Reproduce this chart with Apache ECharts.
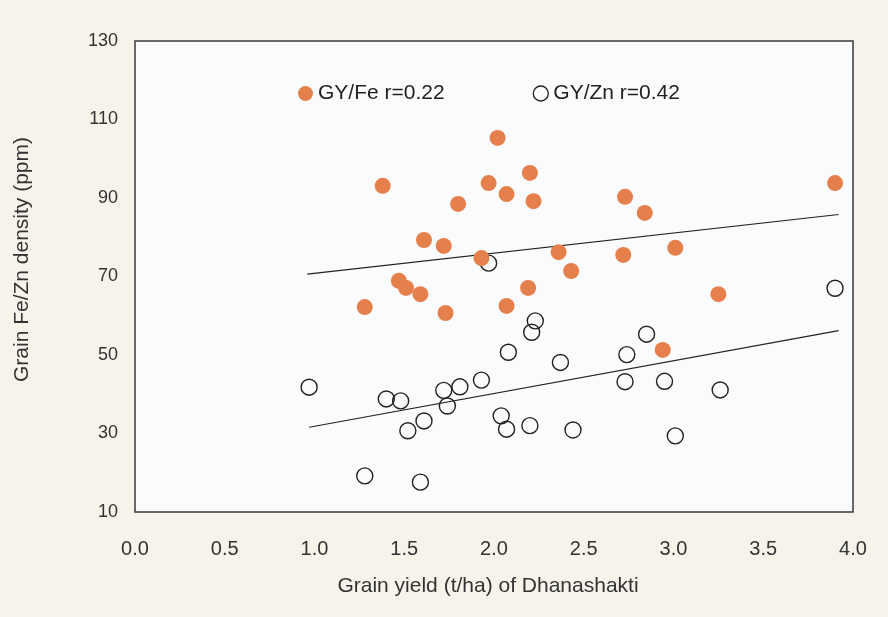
<!DOCTYPE html>
<html>
<head>
<meta charset="utf-8">
<script src="https://cdn.jsdelivr.net/npm/echarts@6/dist/echarts.min.js"></script>
<style>html,body{margin:0;padding:0;background:#f5f3ea;}#c{width:888px;height:617px;}</style>
</head>
<body>
<div id="c"></div>
<script>
// GY/Fe points: grain yield (t/ha), Fe density (ppm)
const feYield = [1.28,1.38,1.47,1.51,1.59,1.61,1.72,1.73,1.80,1.93,1.97,2.02,2.07,2.07,2.19,2.20,2.22,2.36,2.43,2.72,2.73,2.84,2.94,3.01,3.25,3.90];
const feValue = [62.2,93.1,68.9,67.1,65.5,79.3,77.8,60.7,88.5,74.7,93.8,105.3,62.5,91.0,67.1,96.4,89.2,76.2,71.4,75.5,90.3,86.2,51.3,77.3,65.5,93.8];
// GY/Zn points
const znYield = [0.97,1.28,1.40,1.48,1.52,1.59,1.61,1.72,1.74,1.81,1.93,1.97,2.04,2.07,2.08,2.20,2.21,2.23,2.37,2.44,2.73,2.74,2.85,2.95,3.01,3.26,3.90];
const znValue = [41.8,19.2,38.8,38.3,30.7,17.6,33.2,41.0,37.0,41.9,43.6,73.4,34.5,31.1,50.7,32.0,55.8,58.7,48.1,30.9,43.2,50.1,55.3,43.3,29.4,41.1,67.0];
// Trend line endpoints
const feFitX = [0.96,3.92];
const feFitY = [70.6,85.8];
const znFitX = [0.97,3.92];
const znFitY = [31.6,56.2];
const xTicks = [0,0.5,1,1.5,2,2.5,3,3.5,4];
const yTicks = [10,30,50,70,90,110,130];

const zip = (a,b) => a.map((v,i)=>[v,b[i]]);
const font = "'Liberation Sans', Arial, sans-serif";
const chart = echarts.init(document.getElementById('c'), null, {renderer:'canvas'});
chart.setOption({
  backgroundColor:'#f5f3ea',
  animation:false,
  grid:{left:135,right:35,top:41,bottom:105,show:true,backgroundColor:'#fafbfc',borderColor:'#3a3a3a',borderWidth:1.5},
  legend:{
    left:293, top:78, itemGap:88, itemWidth:15, itemHeight:15,
    textStyle:{fontSize:21,color:'#222',fontFamily:font},
    data:[
      {name:'GY/Fe r=0.22', icon:'circle'},
      {name:'GY/Zn r=0.42', icon:'circle', itemStyle:{color:'#fafbfc',borderColor:'#222',borderWidth:1.3}}
    ]
  },
  xAxis:{
    type:'value', min:xTicks[0], max:xTicks[xTicks.length-1], interval:0.5,
    axisLine:{show:false}, axisTick:{show:false}, splitLine:{show:false},
    axisLabel:{margin:27,fontSize:20,color:'#333',fontFamily:font,formatter:v=>v.toFixed(1)},
    name:'Grain yield (t/ha) of Dhanashakti', nameLocation:'middle', nameGap:64,
    nameTextStyle:{fontSize:21,color:'#333',fontFamily:font,padding:[0,12,0,0]}
  },
  yAxis:{
    type:'value', min:yTicks[0], max:yTicks[yTicks.length-1], interval:20,
    axisLine:{show:false}, axisTick:{show:false}, splitLine:{show:false},
    axisLabel:{margin:17,fontSize:18,color:'#333',fontFamily:font,padding:[5,0,0,0]},
    name:'Grain Fe/Zn density (ppm)', nameLocation:'middle', nameGap:102, nameRotate:90,
    nameTextStyle:{fontSize:21,color:'#333',fontFamily:font,padding:[0,0,0,34]}
  },
  series:[
    {name:'GY/Fe fit', type:'line', data:zip(feFitX,feFitY), symbol:'none', lineStyle:{color:'#222',width:1.2}, z:1},
    {name:'GY/Zn fit', type:'line', data:zip(znFitX,znFitY), symbol:'none', lineStyle:{color:'#222',width:1.2}, z:1},
    {name:'GY/Fe r=0.22', type:'scatter', data:zip(feYield,feValue), symbolSize:16,
      itemStyle:{color:'#e5804c',opacity:1}, z:3},
    {name:'GY/Zn r=0.42', type:'scatter', data:zip(znYield,znValue), symbolSize:16,
      itemStyle:{color:'rgba(0,0,0,0)',borderColor:'#222',borderWidth:1.4,opacity:1}, z:2}
  ]
});
</script>
</body>
</html>
